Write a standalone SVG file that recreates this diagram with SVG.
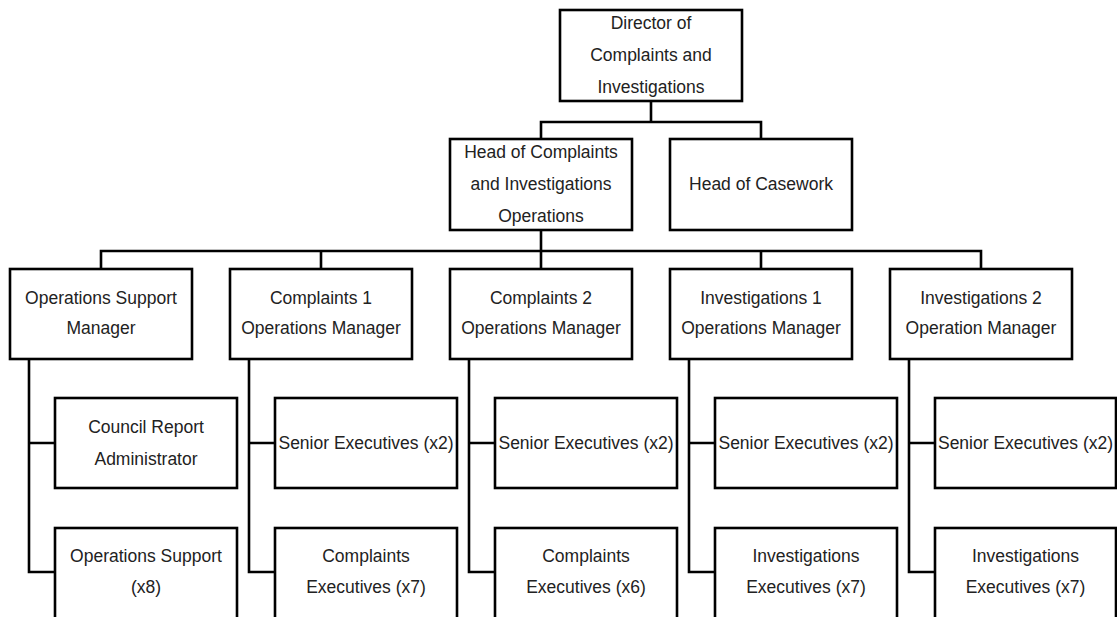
<svg xmlns="http://www.w3.org/2000/svg" width="1117" height="617" viewBox="0 0 1117 617">
  <style>
    .box { fill: #ffffff; stroke: #000000; stroke-width: 2.6; }
    .link { fill: none; stroke: #000000; stroke-width: 2.6; stroke-linecap: square; }
    text { font-family: "Liberation Sans", Arial, sans-serif; font-size: 17.5px; fill: #222222; text-anchor: middle; }
  </style>
  <rect width="1117" height="617" fill="#ffffff"/>

  <!-- reporting lines -->
  <g id="connectors">
    <path class="link" d="M651 101 V122 M541 122 H761 M541 122 V139 M761 122 V139"/>
    <path class="link" d="M541 230 V251 M101 251 H981 M101 251 V269 M321 251 V269 M541 251 V269 M761 251 V269 M981 251 V269"/>
    <path class="link" d="M29 359 V572 M29 443 H55 M29 572 H55"/>
    <path class="link" d="M249 359 V572 M249 443 H275 M249 572 H275"/>
    <path class="link" d="M469 359 V572 M469 443 H495 M469 572 H495"/>
    <path class="link" d="M689 359 V572 M689 443 H715 M689 572 H715"/>
    <path class="link" d="M909 359 V572 M909 443 H935 M909 572 H935"/>
  </g>

  <!-- top level -->
  <g id="director">
    <rect class="box" x="560" y="10" width="182" height="91"/>
    <text x="651" y="29">Director of</text>
    <text x="651" y="61">Complaints and</text>
    <text x="651" y="93">Investigations</text>
  </g>

  <!-- heads -->
  <g id="head-complaints">
    <rect class="box" x="450" y="139" width="182" height="91"/>
    <text x="541" y="158">Head of Complaints</text>
    <text x="541" y="190">and Investigations</text>
    <text x="541" y="222">Operations</text>
  </g>
  <g id="head-casework">
    <rect class="box" x="670" y="139" width="182" height="91"/>
    <text x="761" y="190">Head of Casework</text>
  </g>

  <!-- managers -->
  <g id="ops-support-manager">
    <rect class="box" x="10" y="269" width="182" height="90"/>
    <text x="101" y="304">Operations Support</text>
    <text x="101" y="334">Manager</text>
  </g>
  <g id="complaints1-manager">
    <rect class="box" x="230" y="269" width="182" height="90"/>
    <text x="321" y="304">Complaints 1</text>
    <text x="321" y="334">Operations Manager</text>
  </g>
  <g id="complaints2-manager">
    <rect class="box" x="450" y="269" width="182" height="90"/>
    <text x="541" y="304">Complaints 2</text>
    <text x="541" y="334">Operations Manager</text>
  </g>
  <g id="investigations1-manager">
    <rect class="box" x="670" y="269" width="182" height="90"/>
    <text x="761" y="304">Investigations 1</text>
    <text x="761" y="334">Operations Manager</text>
  </g>
  <g id="investigations2-manager">
    <rect class="box" x="890" y="269" width="182" height="90"/>
    <text x="981" y="304">Investigations 2</text>
    <text x="981" y="334">Operation Manager</text>
  </g>

  <!-- first row of staff -->
  <g id="council-report-admin">
    <rect class="box" x="55" y="398" width="182" height="90"/>
    <text x="146" y="433">Council Report</text>
    <text x="146" y="465">Administrator</text>
  </g>
  <g id="c1-senior">
    <rect class="box" x="275" y="398" width="182" height="90"/>
    <text x="366" y="449">Senior Executives (x2)</text>
  </g>
  <g id="c2-senior">
    <rect class="box" x="495" y="398" width="182" height="90"/>
    <text x="586" y="449">Senior Executives (x2)</text>
  </g>
  <g id="i1-senior">
    <rect class="box" x="715" y="398" width="182" height="90"/>
    <text x="806" y="449">Senior Executives (x2)</text>
  </g>
  <g id="i2-senior">
    <rect class="box" x="935" y="398" width="181" height="90"/>
    <text x="1025.5" y="449">Senior Executives (x2)</text>
  </g>

  <!-- second row of staff -->
  <g id="ops-support-staff">
    <rect class="box" x="55" y="528" width="182" height="100"/>
    <text x="146" y="562">Operations Support</text>
    <text x="146" y="593">(x8)</text>
  </g>
  <g id="c1-executives">
    <rect class="box" x="275" y="528" width="182" height="100"/>
    <text x="366" y="562">Complaints</text>
    <text x="366" y="593">Executives (x7)</text>
  </g>
  <g id="c2-executives">
    <rect class="box" x="495" y="528" width="182" height="100"/>
    <text x="586" y="562">Complaints</text>
    <text x="586" y="593">Executives (x6)</text>
  </g>
  <g id="i1-executives">
    <rect class="box" x="715" y="528" width="182" height="100"/>
    <text x="806" y="562">Investigations</text>
    <text x="806" y="593">Executives (x7)</text>
  </g>
  <g id="i2-executives">
    <rect class="box" x="935" y="528" width="181" height="100"/>
    <text x="1025.5" y="562">Investigations</text>
    <text x="1025.5" y="593">Executives (x7)</text>
  </g>
</svg>
